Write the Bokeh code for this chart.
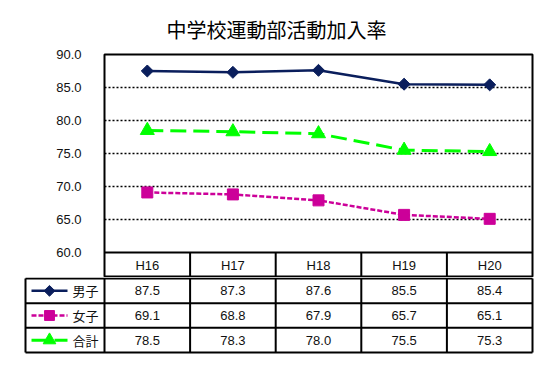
import numpy as np
from bokeh.plotting import figure
from bokeh.layouts import column
from bokeh.models import Range1d, FixedTicker, NumeralTickFormatter, Span, Title
from bokeh.core.properties import value
from bokeh.embed import file_html
from bokeh.resources import INLINE

# ---- data ----
categories = ["H16", "H17", "H18", "H19", "H20"]
series_names = ["男子", "女子", "合計"]
boys = [87.5, 87.3, 87.6, 85.5, 85.4]
girls = [69.1, 68.8, 67.9, 65.7, 65.1]
total = [78.5, 78.3, 78.0, 75.5, 75.3]
y_ticks = [60, 65, 70, 75, 80, 85, 90]
grid_ticks = [65, 70, 75, 80, 85]
title_text = "中学校運動部活動加入率"

# ---- styles ----
styles = [
    dict(color="#0A1E5C", dash="solid", marker="square", angle=np.pi / 4, size=8.5, width=2.5),
    dict(color="#CC0099", dash="5 2", marker="square", angle=0.0, size=11, width=2.5),
    dict(color="#00FF00", dash="16 7", marker="triangle", angle=0.0, size=14, width=3),
]
series = [boys, girls, total]

NUM_FONT = "Liberation Sans"
CJK_FONT = "Noto Sans CJK JP"
W = 541
n = len(categories)
xs = list(range(n))

# ---- top chart (plot area + header row) ----
PX_PER_Y = 6.6
header_h = 25 / PX_PER_Y
y0 = 60 - header_h

p = figure(width=W, height=277, output_backend="svg", toolbar_location=None,
           x_range=Range1d(-0.5, n - 0.5), y_range=Range1d(y0, 90), frame_align=False,
           min_border_left=104, min_border_right=9, min_border_top=54, min_border_bottom=0)
p.title = Title(text=title_text, text_font=CJK_FONT, text_font_size="20px",
                text_font_style="normal", text_color="#000000", align="left", offset=62, standoff=21)
p.outline_line_color = "#000000"
p.outline_line_width = 2
p.background_fill_color = "white"
p.border_fill_color = "white"
p.xaxis.visible = False
p.xgrid.visible = False
p.ygrid.ticker = FixedTicker(ticks=grid_ticks)
p.ygrid.grid_line_color = "#000000"
p.ygrid.grid_line_dash = "2 2"
p.ygrid.grid_line_width = 1.5
yax = p.yaxis[0]
yax.ticker = FixedTicker(ticks=y_ticks)
yax.formatter = NumeralTickFormatter(format="0.0")
yax.axis_line_color = None
yax.major_tick_line_color = None
yax.minor_tick_line_color = None
yax.major_label_standoff = 17
yax.major_label_text_font = NUM_FONT
yax.major_label_text_font_size = "13px"
yax.major_label_text_color = "#111111"

p.add_layout(Span(location=60, dimension="width", line_color="#000000", line_width=2))
p.segment(x0=[i + 0.5 for i in xs[:-1]], y0=[y0] * (n - 1),
          x1=[i + 0.5 for i in xs[:-1]], y1=[60] * (n - 1),
          line_color="#000000", line_width=2)
p.text(x=xs, y=[(60 + y0) / 2] * n, text=categories, text_font=value(NUM_FONT),
       text_font_size="13px", text_align="center", text_baseline="middle", text_color="#111111")

for vals, st in zip(series, styles):
    p.line(xs, vals, line_color=st["color"], line_width=st["width"], line_dash=st["dash"])
    p.scatter(xs, vals, marker=st["marker"], angle=st["angle"], size=st["size"],
              fill_color=st["color"], line_color=st["color"])

# ---- table (legend + values) ----
PX_PER_X = 85.6
FRAME_L = 22
tx0 = -0.5 - (104 - FRAME_L) / PX_PER_X
tx1 = n - 0.5 + 4 / PX_PER_X
row_px = 24.67
t = figure(width=W, height=77, output_backend="svg", toolbar_location=None,
           x_range=Range1d(tx0, tx1), y_range=Range1d(-2 / row_px, 3 + 1 / row_px),
           frame_align=False,
           min_border_left=FRAME_L, min_border_right=5, min_border_top=0, min_border_bottom=0)
t.axis.visible = False
t.grid.visible = False
t.outline_line_color = None
t.background_fill_color = "white"
t.border_fill_color = "white"

def px(d):
    return tx0 + d / PX_PER_X

left_edge = px(3)
nrows = len(series_names)
# horizontal lines
t.segment(x0=[left_edge] * (nrows + 1), y0=list(range(nrows + 1)),
          x1=[n - 0.5] * (nrows + 1), y1=list(range(nrows + 1)),
          line_color="#000000", line_width=2)
# vertical lines
vx = [left_edge] + [i - 0.5 for i in range(n + 1)]
t.segment(x0=vx, y0=[0] * len(vx), x1=vx, y1=[nrows] * len(vx),
          line_color="#000000", line_width=2)

for r, (name, vals, st) in enumerate(zip(series_names, series, styles)):
    yc = nrows - r - 0.5
    t.text(x=xs, y=[yc] * n, text=[f"{v:.1f}" for v in vals], text_font=value(NUM_FONT),
           text_font_size="13px", text_align="center", text_baseline="middle", text_color="#111111")
    t.line([px(9), px(45)], [yc, yc], line_color=st["color"], line_width=st["width"],
           line_dash=st["dash"])
    t.scatter([px(27)], [yc], marker=st["marker"], angle=st["angle"], size=st["size"] * 0.9,
              fill_color=st["color"], line_color=st["color"])
    t.text(x=[px(50)], y=[yc], text=[name], text_font=value(CJK_FONT), text_font_size="13px",
           text_align="left", text_baseline="middle", text_color="#111111")

layout = column(p, t, spacing=0)
open("out.html", "w").write(file_html(layout, INLINE))
